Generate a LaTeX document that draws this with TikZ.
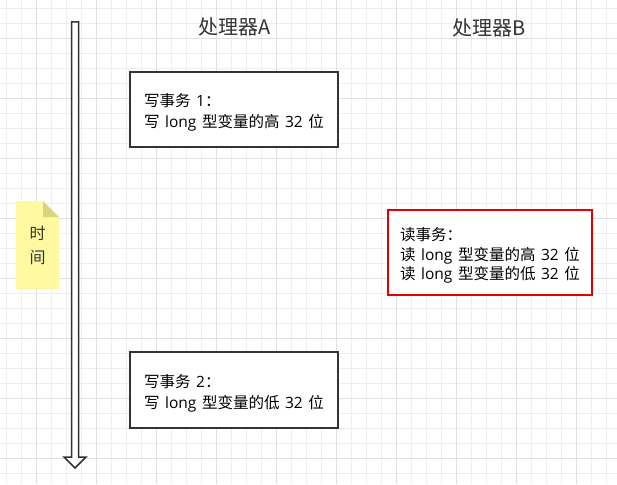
\documentclass[tikz,border=0pt]{standalone}
\usepackage{fontspec}
\usepackage{tikz}
\usetikzlibrary{positioning}
\newfontfamily\cjk[WordSpace=1.6]{Noto Sans CJK SC}
\newfontfamily\latin{Open Sans}
\newcommand{\lat}[1]{{\latin #1}}
\newcommand{\topgap}{\rule{0pt}{19pt}}
\definecolor{gridminor}{RGB}{238,238,238}
\definecolor{gridmajor}{RGB}{224,224,224}
\definecolor{notefill}{RGB}{255,250,160}
\definecolor{notefold}{RGB}{214,214,124}
\definecolor{inkgray}{RGB}{51,51,51}
\definecolor{readred}{RGB}{228,0,0}

\begin{document}
\begin{tikzpicture}[x=1pt, y=-1pt,
	txbox/.style={draw=inkgray, line width=1.6pt, fill=white, minimum width=208pt, minimum height=75pt, inner sep=0pt, align=left, text=black, font=\cjk\fontsize{15.5}{21}\selectfont},
	procname/.style={inner sep=0pt, text=inkgray, font=\cjk\fontsize{20}{24}\selectfont}]
	\useasboundingbox[fill=white] (0,0) rectangle (617,484);
	% Background grid
	\foreach \i in {0,...,40}
		\draw[gridminor, line width=0.8pt] ({6.3+15*\i},0) -- ({6.3+15*\i},484);
	\foreach \j in {0,...,31}
		\draw[gridminor, line width=0.8pt] (0,{8.3+15*\j}) -- (617,{8.3+15*\j});
	\foreach \i in {2,6,...,38}
		\draw[gridmajor, line width=0.8pt] ({6.3+15*\i},0) -- ({6.3+15*\i},484);
	\foreach \j in {2,6,...,30}
		\draw[gridmajor, line width=0.8pt] (0,{8.3+15*\j}) -- (617,{8.3+15*\j});
	% Processors
	\node[procname] at (235,27) (procA) {处理器A};
	\node[procname] at (489,28) (procB) {处理器B};
	% Transactions
	\node[txbox] at (234,109.5) (writeone) {\topgap{}写事务 \lat{1}：\\写 \lat{long} 型变量的高 \lat{32} 位};
	\node[txbox, minimum height=76pt] at (234,390) (writetwo) {\topgap{}写事务 \lat{2}：\\写 \lat{long} 型变量的低 \lat{32} 位};
	\node[txbox, draw=readred, minimum width=204pt, minimum height=85pt, font=\cjk\fontsize{15.5}{19.5}\selectfont] at (490,252.5) (readB) {\topgap{}读事务：\\读 \lat{long} 型变量的高 \lat{32} 位\\读 \lat{long} 型变量的低 \lat{32} 位};
	% Time axis
	\draw[inkgray, line width=1.5pt, line join=miter, fill=white] (71.5,22) -- (78.5,22) -- (78.5,457) -- (86,457) -- (75,468) -- (64,457) -- (71.5,457) -- cycle;
	% Note
	\fill[notefill] (16,201) -- (43,201) -- (59,217) -- (59,289) -- (16,289) -- cycle;
	\fill[notefold] (43,201) -- (59,217) -- (43,217) -- cycle;
	\node[inner sep=0pt, align=center, text=inkgray, font=\cjk\fontsize{16}{24}\selectfont] at (37.5,245) (timenote) {时\\间};
\end{tikzpicture}
\end{document}
